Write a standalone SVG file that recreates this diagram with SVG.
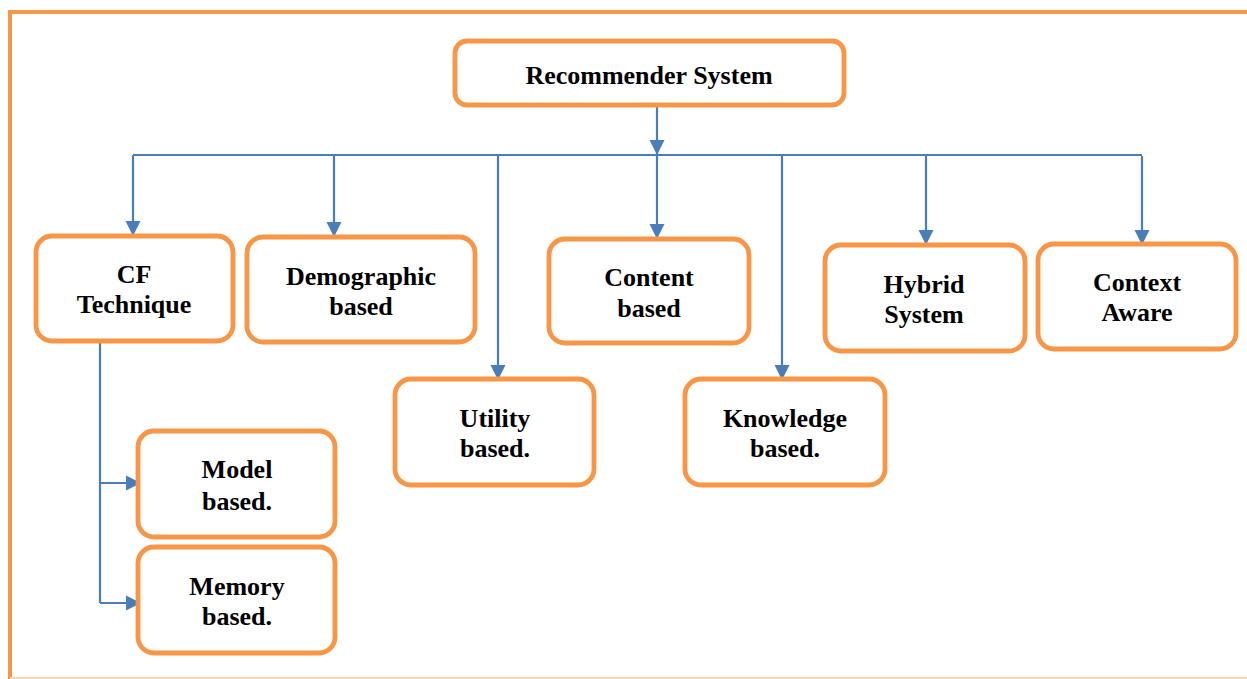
<svg xmlns="http://www.w3.org/2000/svg" width="1247" height="679" viewBox="0 0 1247 679">
<style>
.box{fill:#ffffff;stroke:#F79646;stroke-width:4.8}
.lbl{font-family:"Liberation Serif","Times New Roman",serif;font-weight:bold;font-size:26px;fill:#000;text-anchor:middle}
.ln{fill:none;stroke:#4A7EBB;stroke-width:2.2}
</style>
<defs>
<marker id="ah" viewBox="0 0 10 10" refX="10" refY="5" markerWidth="7" markerHeight="7" orient="auto" markerUnits="strokeWidth">
<path d="M0,0 L10,5 L0,10 z" fill="#4A7EBB"/>
</marker>
</defs>
<rect width="1247" height="679" fill="#ffffff"/>
<g id="frame">
<path d="M1247,12 H10 V679" fill="none" stroke="#F79646" stroke-width="4"/>
<line x1="10" y1="678" x2="1247" y2="678" stroke="#FBD5B5" stroke-width="2"/>
</g>
<g id="connectors">
<line class="ln" x1="657" y1="107" x2="657" y2="155" marker-end="url(#ah)"/>
<line class="ln" x1="133" y1="155" x2="1142" y2="155"/>
<line class="ln" x1="133" y1="155" x2="133" y2="236" marker-end="url(#ah)"/>
<line class="ln" x1="334" y1="155" x2="334" y2="237" marker-end="url(#ah)"/>
<line class="ln" x1="498" y1="155" x2="498" y2="380" marker-end="url(#ah)"/>
<line class="ln" x1="657" y1="155" x2="657" y2="239" marker-end="url(#ah)"/>
<line class="ln" x1="782" y1="155" x2="782" y2="380" marker-end="url(#ah)"/>
<line class="ln" x1="926" y1="156" x2="926" y2="245" marker-end="url(#ah)"/>
<line class="ln" x1="1142" y1="156" x2="1142" y2="245" marker-end="url(#ah)"/>
<path class="ln" d="M100,342 V603"/>
<line class="ln" x1="100" y1="483" x2="141" y2="483" marker-end="url(#ah)"/>
<line class="ln" x1="100" y1="603" x2="141" y2="603" marker-end="url(#ah)"/>
</g>
<g id="n-recommender">
<rect class="box" x="455" y="41" width="389" height="64" rx="12"/>
<text class="lbl" x="649" y="84">Recommender System</text>
</g>
<g id="n-cf">
<rect class="box" x="36" y="236" width="197" height="105" rx="16"/>
<text class="lbl" x="134" y="283">CF</text>
<text class="lbl" x="134" y="313">Technique</text>
</g>
<g id="n-demographic">
<rect class="box" x="247" y="237" width="228" height="105" rx="16"/>
<text class="lbl" x="361" y="285">Demographic</text>
<text class="lbl" x="361" y="315">based</text>
</g>
<g id="n-content">
<rect class="box" x="549" y="239" width="200" height="104" rx="16"/>
<text class="lbl" x="649" y="286">Content</text>
<text class="lbl" x="649" y="317">based</text>
</g>
<g id="n-hybrid">
<rect class="box" x="825" y="245" width="200" height="106" rx="16"/>
<text class="lbl" x="924" y="293">Hybrid</text>
<text class="lbl" x="924" y="323">System</text>
</g>
<g id="n-context">
<rect class="box" x="1038" y="244" width="198" height="105" rx="16"/>
<text class="lbl" x="1137" y="291">Context</text>
<text class="lbl" x="1137" y="321">Aware</text>
</g>
<g id="n-utility">
<rect class="box" x="395" y="379" width="199" height="106" rx="16"/>
<text class="lbl" x="495" y="427">Utility</text>
<text class="lbl" x="495" y="457">based.</text>
</g>
<g id="n-knowledge">
<rect class="box" x="685" y="379" width="200" height="106" rx="16"/>
<text class="lbl" x="785" y="427">Knowledge</text>
<text class="lbl" x="785" y="457">based.</text>
</g>
<g id="n-model">
<rect class="box" x="138" y="431" width="197" height="106" rx="16"/>
<text class="lbl" x="237" y="478">Model</text>
<text class="lbl" x="237" y="510">based.</text>
</g>
<g id="n-memory">
<rect class="box" x="138" y="547" width="197" height="106" rx="16"/>
<text class="lbl" x="237" y="595">Memory</text>
<text class="lbl" x="237" y="625">based.</text>
</g>
</svg>
